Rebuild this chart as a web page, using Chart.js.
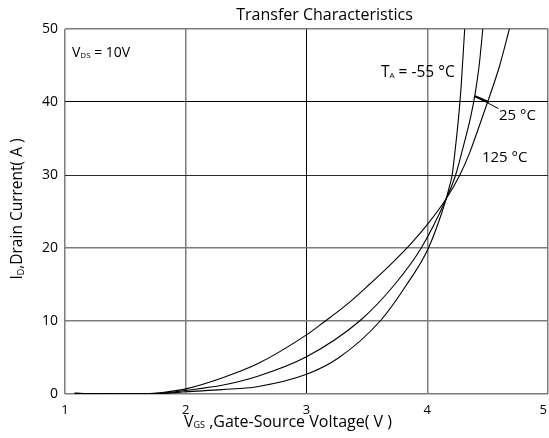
<!DOCTYPE html>
<html><head><meta charset="utf-8">
<script src="https://cdn.jsdelivr.net/npm/chart.js@4"></script>
<style>html,body{margin:0;padding:0;background:#fff}canvas{display:block}</style>
</head><body>
<canvas id="c" width="549" height="438"></canvas>
<script>
// ---- data ----
const xTicks = [1, 2, 3, 4, 5];
const yTicks = [0, 10, 20, 30, 40, 50];

const vgsM55 = [1.08, 1.3, 1.5, 1.7, 1.85, 2.0, 2.3, 2.59, 3.0, 3.27, 3.61, 3.83, 4.01, 4.157, 4.18, 4.206, 4.235, 4.26, 4.28, 4.31];
const idM55  = [0.1, 0.03, 0, 0.03, 0.12, 0.3, 0.6, 1.0, 2.7, 5, 10, 15, 20, 26.75, 28.2, 30, 34, 38, 42, 50];

const vgs25 = [1.08, 1.3, 1.5, 1.7, 1.85, 2.0, 2.3, 2.59, 3.0, 3.44, 3.73, 3.95, 4.157, 4.235, 4.30, 4.36, 4.40, 4.43, 4.46];
const id25  = [0.1, 0.03, 0, 0.04, 0.2, 0.5, 1.2, 2.4, 5.1, 10, 15, 20, 26.75, 30, 34, 38, 41.5, 45, 50];

const vgs125 = [1.08, 1.3, 1.5, 1.7, 1.85, 2.0, 2.3, 2.59, 3.0, 3.14, 3.33, 3.52, 3.70, 3.86, 4.0, 4.157, 4.27, 4.35, 4.42, 4.50, 4.60, 4.68];
const id125  = [0.1, 0.03, 0, 0.05, 0.3, 0.7, 2.2, 4.1, 8.1, 9.8, 12.2, 15, 17.8, 20.5, 23.2, 26.75, 30, 33, 36.2, 40, 45, 50];

// leader line for the 25 °C label
const leaderX = [4.395, 4.59];
const leaderY = [40.8, 39.1];
const leaderHeadX = [4.395, 4.51];
const leaderHeadY = [40.8, 39.95];

const seriesLabels = ['-55 °C', '25 °C', '125 °C'];

// ---- helpers ----
const FAM = '"Open Sans", sans-serif';
const GREY = '#7c7c7c';
const zip = (xs, ys) => xs.map((x, i) => ({x, y: ys[i]}));

function curve(label, xs, ys) {
  return {label, data: zip(xs, ys), borderColor: '#000', borderWidth: 1.1,
    pointRadius: 0, fill: false, cubicInterpolationMode: 'monotone'};
}

function measureRuns(ctx, runs) {
  let w = 0;
  for (const [t, s] of runs) { ctx.font = s + 'px ' + FAM; w += ctx.measureText(t).width; }
  return w;
}
function drawRuns(ctx, x, y, runs, align) {
  let cx = x;
  if (align === 'center') cx = x - measureRuns(ctx, runs) / 2;
  ctx.textAlign = 'left';
  ctx.textBaseline = 'alphabetic';
  for (const [t, s, dy] of runs) {
    ctx.font = s + 'px ' + FAM;
    ctx.fillText(t, cx, y + (dy || 0));
    cx += ctx.measureText(t).width;
  }
}

const textPlugin = {
  id: 'texts',
  afterDraw(chart) {
    const {ctx, scales: {x, y}} = chart;
    ctx.save();
    ctx.fillStyle = '#000';
    // title
    drawRuns(ctx, 324.5, 20, [['Transfer Characteristics', 16, 0]], 'center');
    // x tick labels
    xTicks.forEach(v => {
      ctx.font = '13px ' + FAM;
      const w = ctx.measureText(String(v)).width;
      let px = x.getPixelForValue(v);
      px = Math.min(px, chart.width - w / 2 - 2);
      ctx.textAlign = 'center'; ctx.textBaseline = 'alphabetic';
      ctx.fillText(String(v), px, 414);
    });
    // x axis title
    drawRuns(ctx, 184, 427, [['V', 16, 0], ['GS', 9, 1], [' ,Gate-Source Voltage( V )', 16, 0]], 'left');
    // y axis title
    ctx.save();
    ctx.translate(22, 209);
    ctx.rotate(-Math.PI / 2);
    drawRuns(ctx, 0, 0, [['I', 15.5, 0], ['D', 9, 2], [',Drain Current( A )', 15.5, 0]], 'center');
    ctx.restore();
    // annotations
    drawRuns(ctx, x.getPixelForValue(1.058), y.getPixelForValue(46.1),
      [['V', 14, 0], ['DS', 8, 1], [' = 10V', 14, 0]], 'left');
    drawRuns(ctx, x.getPixelForValue(3.617), y.getPixelForValue(43.47),
      [['T', 15.5, 0], ['A', 8, 1], [' = ' + seriesLabels[0], 15.5, 0]], 'left');
    drawRuns(ctx, x.getPixelForValue(4.594), y.getPixelForValue(37.53), [[seriesLabels[1], 15, 0]], 'left');
    drawRuns(ctx, x.getPixelForValue(4.453), y.getPixelForValue(31.74), [[seriesLabels[2], 15, 0]], 'left');
    ctx.restore();
  }
};

new Chart(document.getElementById('c'), {
  type: 'line',
  data: {
    datasets: [
      curve(seriesLabels[0], vgsM55, idM55),
      curve(seriesLabels[1], vgs25, id25),
      curve(seriesLabels[2], vgs125, id125),
      {label: 'leader', data: zip(leaderX, leaderY), borderColor: '#000', borderWidth: 1, pointRadius: 0, tension: 0},
      {label: 'leaderHead', data: zip(leaderHeadX, leaderHeadY), borderColor: '#000', borderWidth: 2.2, pointRadius: 0, tension: 0}
    ]
  },
  options: {
    responsive: false,
    animation: false,
    devicePixelRatio: 1,
    layout: {padding: {top: 29, right: 1, left: 0, bottom: 0}},
    plugins: {legend: {display: false}, tooltip: {enabled: false}, title: {display: false}},
    scales: {
      x: {
        type: 'linear', min: xTicks[0], max: xTicks[xTicks.length - 1],
        afterBuildTicks(s) { s.ticks = xTicks.map(v => ({value: v})); },
        ticks: {display: false},
        border: {display: false},
        grid: {
          drawTicks: false,
          color: c => (c.tick && c.tick.value === 3) ? '#000' : GREY,
          lineWidth: c => (c.tick && c.tick.value === 3) ? 1 : 1.5
        },
        afterFit(s) { s.height = 44; s.paddingRight = 0; s.paddingLeft = 0; }
      },
      y: {
        type: 'linear', min: yTicks[0], max: yTicks[yTicks.length - 1],
        afterBuildTicks(s) { s.ticks = yTicks.map(v => ({value: v})); },
        ticks: {color: '#000', padding: 7, font: {family: FAM, size: 14}},
        border: {display: false},
        grid: {
          drawTicks: false,
          color: c => (c.tick && c.tick.value === 40) ? '#000' : (c.tick && c.tick.value === 30) ? '#2a2a2a' : GREY,
          lineWidth: c => (c.tick && (c.tick.value === 40 || c.tick.value === 30)) ? 1 : 1.5
        },
        afterFit(s) { s.width = 65; }
      }
    }
  },
  plugins: [textPlugin]
});
</script>
</body></html>
